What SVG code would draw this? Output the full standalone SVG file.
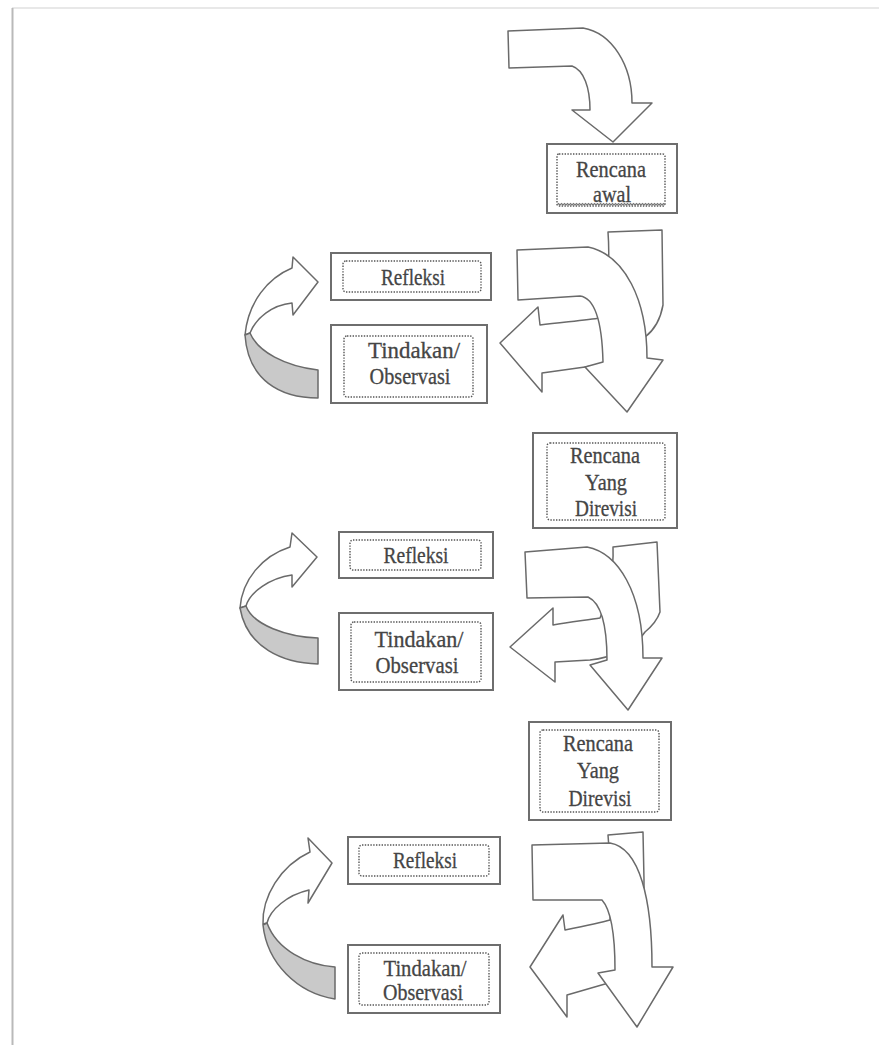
<svg xmlns="http://www.w3.org/2000/svg" width="879" height="1045" viewBox="0 0 879 1045">
<defs>
<style>
.bg{fill:#ffffff}
.outer{fill:#ffffff;stroke:#6e6e6e;stroke-width:2}
.inner{fill:none;stroke:#555555;stroke-width:1.4;stroke-dasharray:1.4 1.4}
.t{font-family:"Liberation Serif","Times New Roman",serif;font-size:23px;fill:#454545;stroke:#454545;stroke-width:0.3;text-anchor:middle}
.arr{fill:#ffffff;stroke:#6a6a6a;stroke-width:1.5;stroke-linejoin:round}
.band{fill:#c9c9c9;stroke:#6a6a6a;stroke-width:1.5;stroke-linejoin:round}
.squig{fill:none;stroke:#777777;stroke-width:1.2}
</style>
</defs>
<rect class="bg" x="0" y="0" width="879" height="1045"/>
<g id="page">
<line x1="12" y1="8" x2="879" y2="8" stroke="#e8e8e8" stroke-width="2"/>
<line x1="12.5" y1="8" x2="12.5" y2="1045" stroke="#b9b9b9" stroke-width="2"/>
</g>
<g id="connectors">
<path class="arr" d="M 508 31 L 583 28 C 612 33, 632 65, 632 103 L 652 103 L 613 142 L 572 110 L 590 110 C 590 88, 584 70, 572 66 L 509 68 Z"/>
<path class="arr" d="M 608 232 L 662 230 L 663 305 C 660 322, 653 331, 645 337 C 630 355, 605 365, 585 367 L 542 373 L 542 392 L 500 343 L 538 307 L 540 325 C 565 322, 588 320, 600 318 C 608 290, 610 260, 608 232 Z"/>
<path class="arr" d="M 517 250 L 588 247 C 625 255, 647 300, 647 358 L 663 360 L 627 412 L 585 367 L 603 362 C 602 320, 595 298, 580 296 L 518 300 Z"/>
<path class="arr" d="M 245 335 C 248 302, 268 278, 292 268 L 293 257 L 318 282 L 293 315 L 292 303 C 272 305, 256 318, 250 333 Z"/>
<path class="band" d="M 250 333 C 258 352, 285 366, 318 370 L 318 398 C 280 398, 248 380, 245 335 Z"/>
<path class="arr" d="M 613 547 L 657 542 L 660 612 C 657 621, 651 627, 645 632 C 635 648, 610 658, 590 660 L 555 662 L 555 682 L 510 647 L 553 608 L 553 625 C 570 622, 588 620, 600 618 C 608 600, 614 570, 613 547 Z"/>
<path class="arr" d="M 525 552 L 587 547 C 618 553, 643 592, 643 658 L 662 658 L 628 710 L 590 665 L 607 660 C 607 625, 601 603, 588 597 L 527 598 Z"/>
<path class="arr" d="M 240 608 C 242 580, 262 556, 290 547 L 292 533 L 317 557 L 292 587 L 292 575 C 270 578, 250 592, 246 606 Z"/>
<path class="band" d="M 246 606 C 253 625, 287 637, 318 638 L 318 664 C 283 663, 247 648, 240 608 Z"/>
<path class="arr" d="M 608 835 L 643 832 L 644 880 C 645 935, 628 975, 605 984 L 567 995 L 567 1017 L 530 967 L 563 915 L 565 930 C 585 926, 600 923, 610 920 C 612 890, 610 860, 608 835 Z"/>
<path class="arr" d="M 532 845 L 610 843 C 640 848, 652 900, 652 967 L 673 967 L 637 1027 L 598 973 L 615 970 C 615 935, 611 910, 602 900 L 533 900 Z"/>
<path class="arr" d="M 263 924 C 262 897, 280 866, 310 852 L 308 838 L 332 863 L 308 903 L 309 890 C 287 895, 270 910, 267 923 Z"/>
<path class="band" d="M 267 923 C 277 950, 307 965, 335 967 L 335 999 C 297 993, 267 963, 263 925 Z"/>
</g>
<g id="rencana-awal">
<rect class="outer" x="547" y="144" width="130" height="69"/>
<rect class="inner" x="557" y="154" width="108" height="52" rx="2"/>
<text class="t" x="611" y="177" textLength="70" lengthAdjust="spacingAndGlyphs">Rencana</text>
<text class="t" x="612" y="202" textLength="38" lengthAdjust="spacingAndGlyphs">awal</text>
<path class="squig" d="M 557 205 l 1.5 -1.5 l 1.5 1.5 l 1.5 -1.5 l 1.5 1.5 l 1.5 -1.5 l 1.5 1.5 l 1.5 -1.5 l 1.5 1.5 l 1.5 -1.5 l 1.5 1.5 l 1.5 -1.5 l 1.5 1.5 l 1.5 -1.5 l 1.5 1.5 l 1.5 -1.5 l 1.5 1.5 l 1.5 -1.5 l 1.5 1.5 l 1.5 -1.5 l 1.5 1.5 l 1.5 -1.5 l 1.5 1.5 l 1.5 -1.5 l 1.5 1.5 l 1.5 -1.5 l 1.5 1.5 l 1.5 -1.5 l 1.5 1.5 l 1.5 -1.5 l 1.5 1.5 l 1.5 -1.5 l 1.5 1.5 l 1.5 -1.5 l 1.5 1.5 l 1.5 -1.5 l 1.5 1.5 l 1.5 -1.5 l 1.5 1.5 l 1.5 -1.5 l 1.5 1.5 l 1.5 -1.5 l 1.5 1.5 l 1.5 -1.5 l 1.5 1.5 l 1.5 -1.5 l 1.5 1.5 l 1.5 -1.5 l 1.5 1.5 l 1.5 -1.5 l 1.5 1.5 l 1.5 -1.5 l 1.5 1.5 l 1.5 -1.5 l 1.5 1.5 l 1.5 -1.5 l 1.5 1.5 l 1.5 -1.5 l 1.5 1.5 l 1.5 -1.5 l 1.5 1.5 l 1.5 -1.5 l 1.5 1.5 l 1.5 -1.5 l 1.5 1.5 l 1.5 -1.5 l 1.5 1.5 l 1.5 -1.5 l 1.5 1.5 l 1.5 -1.5 l 1.5 1.5 l 1.5 -1.5 l 1.5 1.5"/>
</g>
<g id="refleksi-1">
<rect class="outer" x="331" y="253" width="160" height="47"/>
<rect class="inner" x="343" y="261" width="138" height="31" rx="3"/>
<text class="t" x="413" y="285" textLength="64" lengthAdjust="spacingAndGlyphs">Refleksi</text>
</g>
<g id="tindakan-1">
<rect class="outer" x="331" y="325" width="156" height="78"/>
<rect class="inner" x="344" y="336" width="129" height="61" rx="3"/>
<text class="t" x="414" y="358" textLength="92" lengthAdjust="spacingAndGlyphs">Tindakan/</text>
<text class="t" x="410" y="384" textLength="81" lengthAdjust="spacingAndGlyphs">Observasi</text>
</g>
<g id="rencana-revisi-1">
<rect class="outer" x="533" y="433" width="144" height="95"/>
<rect class="inner" x="547" y="443" width="118" height="77" rx="3"/>
<text class="t" x="605" y="463" textLength="70" lengthAdjust="spacingAndGlyphs">Rencana</text>
<text class="t" x="606" y="490" textLength="42" lengthAdjust="spacingAndGlyphs">Yang</text>
<text class="t" x="606" y="516" textLength="62" lengthAdjust="spacingAndGlyphs">Direvisi</text>
</g>
<g id="refleksi-2">
<rect class="outer" x="339" y="532" width="154" height="46"/>
<rect class="inner" x="350" y="540" width="131" height="30" rx="3"/>
<text class="t" x="416" y="563" textLength="65" lengthAdjust="spacingAndGlyphs">Refleksi</text>
</g>
<g id="tindakan-2">
<rect class="outer" x="339" y="613" width="154" height="77"/>
<rect class="inner" x="351" y="622" width="130" height="60" rx="3"/>
<text class="t" x="419" y="647" textLength="89" lengthAdjust="spacingAndGlyphs">Tindakan/</text>
<text class="t" x="417" y="673" textLength="83" lengthAdjust="spacingAndGlyphs">Observasi</text>
</g>
<g id="rencana-revisi-2">
<rect class="outer" x="529" y="722" width="142" height="98"/>
<rect class="inner" x="540" y="730" width="119" height="82" rx="3"/>
<text class="t" x="598" y="751" textLength="70" lengthAdjust="spacingAndGlyphs">Rencana</text>
<text class="t" x="598" y="778" textLength="42" lengthAdjust="spacingAndGlyphs">Yang</text>
<text class="t" x="600" y="806" textLength="63" lengthAdjust="spacingAndGlyphs">Direvisi</text>
</g>
<g id="refleksi-3">
<rect class="outer" x="348" y="837" width="152" height="47"/>
<rect class="inner" x="359" y="845" width="130" height="31" rx="3"/>
<text class="t" x="425" y="868" textLength="64" lengthAdjust="spacingAndGlyphs">Refleksi</text>
</g>
<g id="tindakan-3">
<rect class="outer" x="348" y="945" width="152" height="68"/>
<rect class="inner" x="359" y="953" width="130" height="52" rx="3"/>
<text class="t" x="425" y="976" textLength="83" lengthAdjust="spacingAndGlyphs">Tindakan/</text>
<text class="t" x="423" y="1000" textLength="80" lengthAdjust="spacingAndGlyphs">Observasi</text>
</g>
</svg>
